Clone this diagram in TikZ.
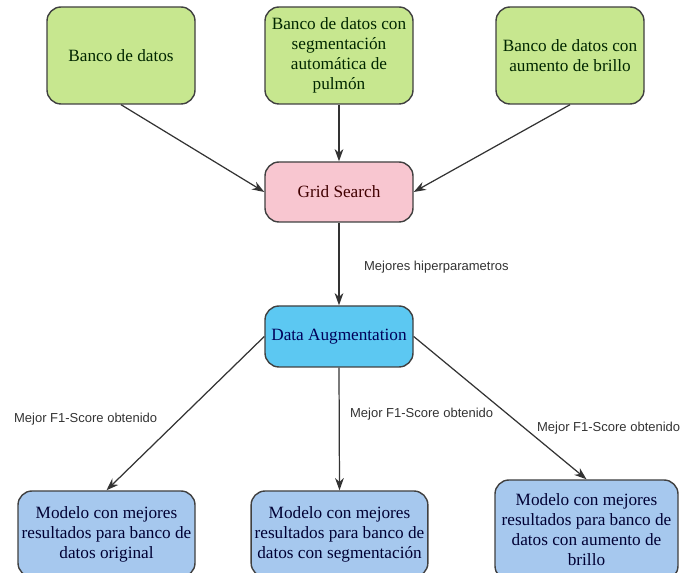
\documentclass[tikz,border=0pt]{standalone}
\usepackage{fontspec}
\setmainfont{Liberation Serif}
\setsansfont{Liberation Sans}
\usetikzlibrary{arrows.meta}

\definecolor{verde}{HTML}{C7E78F}
\definecolor{rosa}{HTML}{F8C6D0}
\definecolor{celeste}{HTML}{5CC8F2}
\definecolor{azul}{HTML}{A6C8EE}

\tikzset{
  caja/.style = {draw = black!75, line width = 0.8pt, rounded corners = 8pt,
                 align = center, inner sep = 2pt,
                 font = \fontsize{9.8}{11.4}\selectfont},
  flecha/.style = {-{Stealth[length = 7pt, width = 5pt]}, black!80, line width = 0.7pt},
  etiqueta/.style = {font = \sffamily\fontsize{7.4}{9}\selectfont, text = black!80, inner sep = 1pt}
}

\begin{document}
\begin{tikzpicture}[x = 0.02cm, y = -0.02cm]
        \useasboundingbox (0, 0) rectangle (686, 573);
        % fuentes de datos
        \node [caja, fill = verde, text = green!15!black, minimum width = 148*0.02cm, minimum height = 97*0.02cm] (banco) at (121, 55.5) {Banco de datos};
        \node [caja, fill = verde, text = green!15!black, minimum width = 148*0.02cm, minimum height = 97*0.02cm] (segm) at (339, 55.5) {Banco de datos con\\segmentación\\automática de\\pulmón};
        \node [caja, fill = verde, text = green!15!black, minimum width = 148*0.02cm, minimum height = 97*0.02cm] (brillo) at (570, 55.5) {Banco de datos con\\aumento de brillo};
        \node [caja, fill = rosa, text = red!25!black, minimum width = 148*0.02cm, minimum height = 60*0.02cm] (grid) at (339, 192) {Grid Search};
        \node [caja, fill = celeste, text = blue!35!black, minimum width = 148*0.02cm, minimum height = 61*0.02cm] (aug) at (339, 336.5) {Data Augmentation};
        % modelos
        \node [caja, fill = azul, text = blue!20!black, minimum width = 177*0.02cm, minimum height = 86*0.02cm] (mod1) at (106.5, 534) {Modelo con mejores\\resultados para banco de\\datos original};
        \node [caja, fill = azul, text = blue!20!black, minimum width = 173*0.02cm, minimum height = 86*0.02cm] (mod2) at (339.5, 534) {Modelo con mejores\\resultados para banco de\\datos con segmentación};
        \node [caja, fill = azul, text = blue!20!black, minimum width = 183*0.02cm, minimum height = 100*0.02cm] (mod3) at (586.5, 530) {Modelo con mejores\\resultados para banco de\\datos con aumento de\\brillo};

        \draw [flecha] (banco.south) -- (grid.west);
        \draw [flecha] (segm.south) -- (grid.north);
        \draw [flecha] (brillo.south) -- (grid.east);
        \draw [flecha] (grid.south) -- (aug.north);
        \node [etiqueta, anchor = west] (hiper) at (362, 267) {Mejores hiperparametros};

        \draw [flecha] (aug.west) -- (mod1.north);
        \draw [flecha] (aug.south) -- (mod2.north);
        \draw [flecha] (aug.east) -- (mod3.north);
        \node [etiqueta, anchor = west] (f1a) at (12, 419) {Mejor F1-Score obtenido};
        \node [etiqueta, anchor = west] (f1b) at (348, 414) {Mejor F1-Score obtenido};
        \node [etiqueta, anchor = west] (f1c) at (535, 428) {Mejor F1-Score obtenido};
    \end{tikzpicture}
\end{document}
